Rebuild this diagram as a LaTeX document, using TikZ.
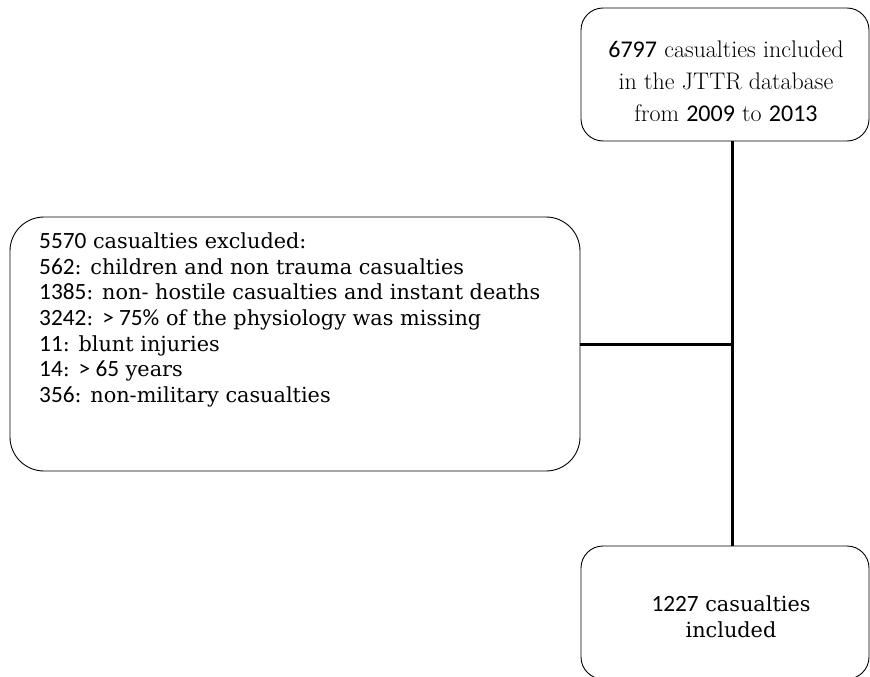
\documentclass[tikz,border=0pt]{standalone}
\usepackage{fontspec}
\newfontfamily\numfont{Carlito}
\newfontfamily\numfontbig{Carlito}[Scale=1.12]
\newfontfamily\bodyserif{DejaVu Serif}
\newcommand{\nm}[1]{{\numfont #1}}
\newcommand{\nmb}[1]{{\numfontbig #1}}
\begin{document}
\begin{tikzpicture}[x=1pt,y=-1pt,
  box/.style={draw=black, line width=0.9pt, inner sep=0pt},
  link/.style={draw=black, line width=3pt},
  txt/.style={inner sep=0pt}]
\useasboundingbox (0,0) rectangle (870,677);

% boxes
\node[box, rounded corners=22pt, minimum width=288pt, minimum height=133pt] (top) at (725,74.5) {};
\node[box, rounded corners=34pt, minimum width=570pt, minimum height=254pt] (excl) at (295,344) {};
\begin{scope}
\clip (0,0) rectangle (870,677);
\node[box, rounded corners=22pt, minimum width=288pt, minimum height=133pt] (incl) at (725,612.5) {};
\end{scope}

% texts
\node[txt, align=center, font=\fontsize{24}{32}\selectfont] (toptext) at (726,81)
  {\nm{6797} casualties included\\ in the JTTR database\\ from \nm{2009} to \nm{2013}};
\node[txt, align=left, anchor=west, font=\bodyserif\fontsize{20.8}{25.7}\selectfont] (excltext) at (39,320)
  {\nmb{5570} casualties excluded:\\
   \nmb{562}: children and non trauma casualties\\
   \nmb{1385}: non- hostile casualties and instant deaths\\
   \nmb{3242}: \nmb{> 75\%} of the physiology was missing\\
   \nmb{11}: blunt injuries\\
   \nmb{14}: \nmb{> 65} years\\
   \nmb{356}: non-military casualties};
\node[txt, align=center, font=\bodyserif\fontsize{20.8}{25.7}\selectfont] (incltext) at (731,617)
  {\nmb{1227} casualties\\ included};

% connectors
\coordinate (vx) at (732,0);
\draw[link] (top.south -| vx) -- (incl.north -| vx);
\draw[link] (excl.east) -- (excl.east -| vx);
\end{tikzpicture}
\end{document}
